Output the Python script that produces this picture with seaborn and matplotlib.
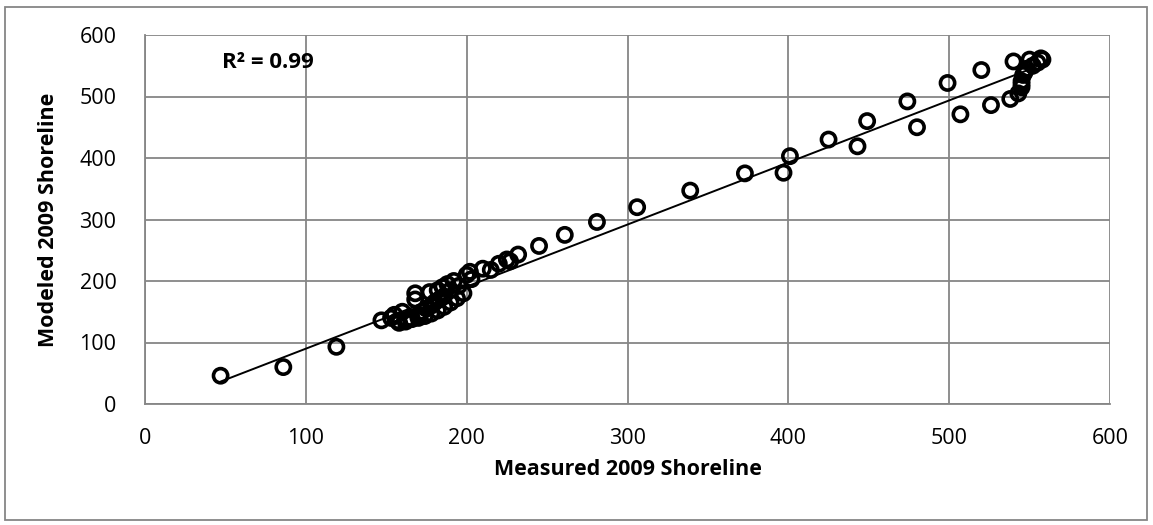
import numpy as np
import pandas as pd
import matplotlib
matplotlib.use("Agg")
import matplotlib.pyplot as plt
import seaborn as sns
from matplotlib.patches import Rectangle

measured = [47, 86, 119, 147, 153, 155, 157, 160, 163, 165, 168, 168, 170, 172, 175,
            177, 178, 180, 182, 183, 185, 186, 188, 190, 192, 195, 200, 202, 203, 210,
            215, 220, 225, 227, 232, 245, 261, 281, 306, 339, 373, 397, 401, 425, 443,
            449, 474, 480, 499, 507, 520, 526, 538, 540, 543, 545, 545, 546, 547, 545,
            548, 550, 552, 555, 557, 558,
            158, 162, 166, 170, 174, 178, 182, 186, 190, 194, 198]
modeled = [46, 60, 93, 136, 140, 145, 135, 150, 137, 140, 180, 170, 145, 150, 155,
           182, 160, 165, 185, 170, 190, 175, 195, 185, 200, 192, 210, 215, 203, 220,
           218, 228, 235, 232, 243, 257, 275, 296, 320, 347, 375, 376, 403, 430, 419,
           460, 492, 450, 522, 471, 543, 486, 496, 557, 505, 515, 525, 535, 540, 520,
           545, 560, 550, 555, 562, 560,
           132, 134, 138, 140, 143, 147, 152, 158, 165, 172, 180]
x_ticks = [0, 100, 200, 300, 400, 500, 600]
y_ticks = [0, 100, 200, 300, 400, 500, 600]
x_label = "Measured 2009 Shoreline"
y_label = "Modeled 2009 Shoreline"

df = pd.DataFrame({"measured": measured, "modeled": modeled})
r2 = np.corrcoef(df.measured, df.modeled)[0, 1] ** 2

sns.set_theme(style="white")
plt.rcParams["font.family"] = ["Open Sans", "DejaVu Sans"]
plt.rcParams["text.color"] = "black"
plt.rcParams["axes.labelcolor"] = "black"

W, H = 1153, 525
fig = plt.figure(figsize=(W / 100, H / 100), dpi=100)
ax = fig.add_axes([145 / W, 1 - 404 / H, (1110 - 145) / W, (404 - 35) / H])

grid_c = "#868686"
fs = 15.5
sns.regplot(data=df, x="measured", y="modeled", ax=ax, scatter=False, ci=None,
            truncate=True, line_kws={"color": "black", "lw": 1.4, "zorder": 3})
sns.scatterplot(data=df, x="measured", y="modeled", ax=ax, s=105, marker="o", zorder=4)
pts = ax.collections[-1]
pts.set_facecolor("none")
pts.set_edgecolor("black")
pts.set_linewidth(2.6)

ax.set_xlim(0, 600)
ax.set_ylim(0, 600)
ax.set_xticks(x_ticks)
ax.set_yticks(y_ticks)
ax.grid(True, color=grid_c, lw=1.3)
ax.set_axisbelow(True)
for s in ["top", "right"]:
    ax.spines[s].set_visible(False)
for s in ["left", "bottom"]:
    ax.spines[s].set_color(grid_c)
    ax.spines[s].set_linewidth(1.3)
ax.tick_params(axis="both", which="both", direction="out", length=6.5, width=1.3,
               color=grid_c, labelsize=fs, labelcolor="black", pad=11)
ax.tick_params(axis="y", pad=14)
ax.set_xlabel(x_label, fontsize=fs, fontweight="bold", color="black")
ax.set_ylabel(y_label, fontsize=fs, fontweight="bold", color="black")
ax.xaxis.set_label_coords((628 - 145) / 965, (404 - 459) / 369)
ax.yaxis.set_label_coords((59 - 145) / 965, (404 - 220) / 369)

ax.text(48, 555, f"R² = {r2:.2f}", fontsize=fs + 0.5, fontweight="bold",
        va="center", ha="left", color="black")

fig.patches.append(Rectangle((5 / W, 5 / H), (W - 11) / W, (H - 12) / H,
                             transform=fig.transFigure, fill=False,
                             edgecolor=grid_c, lw=1.3))

fig.savefig("out.png", dpi=100)
